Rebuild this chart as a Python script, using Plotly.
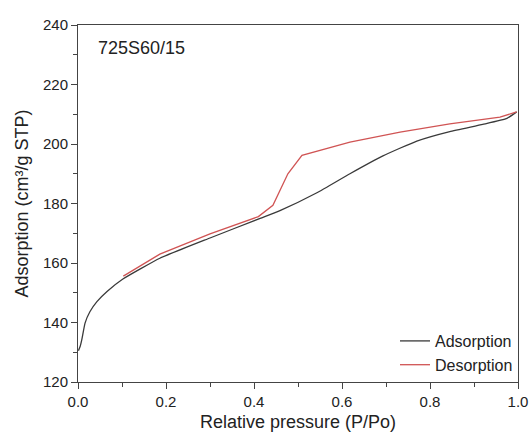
import plotly.graph_objects as go

# Adsorption branch
ads_x = [0.001, 0.005, 0.009, 0.016, 0.027, 0.043, 0.066, 0.102, 0.186, 0.3, 0.414, 0.459, 0.543, 0.618, 0.693, 0.77, 0.845, 0.92, 0.975, 0.997]
ads_y = [130.5, 132.0, 134.5, 139.8, 143.6, 147.0, 150.4, 154.6, 161.6, 168.4, 175.0, 177.6, 183.6, 190.0, 196.0, 201.0, 204.2, 206.6, 208.6, 210.8]

# Desorption branch
des_x = [0.103, 0.186, 0.3, 0.41, 0.443, 0.477, 0.509, 0.618, 0.732, 0.845, 0.959, 0.997]
des_y = [155.6, 163.0, 169.8, 175.6, 179.4, 190.0, 196.2, 200.6, 204.0, 206.8, 209.0, 210.8]

x_tickvals = [0.0, 0.2, 0.4, 0.6, 0.8, 1.0]
x_ticktext = ["0.0", "0.2", "0.4", "0.6", "0.8", "1.0"]
y_tickvals = [120, 140, 160, 180, 200, 220, 240]
y_ticktext = ["120", "140", "160", "180", "200", "220", "240"]

sample_label = "725S60/15"

FONT = "Liberation Sans, Arial, sans-serif"

fig = go.Figure()
fig.add_trace(go.Scatter(x=ads_x, y=ads_y, mode="lines", name="Adsorption",
                         line=dict(color="#3a3a3a", width=1.3, shape="spline", smoothing=0.4)))
fig.add_trace(go.Scatter(x=des_x, y=des_y, mode="lines", name="Desorption",
                         line=dict(color="#d05454", width=1.3)))

axis_common = dict(
    showgrid=False, zeroline=False, showline=True, mirror=True,
    linecolor="#444", linewidth=1, automargin=False,
    ticks="outside", ticklen=6, tickwidth=1, tickcolor="#444",
    tickfont=dict(family=FONT, size=15, color="#222"),
)

fig.update_xaxes(range=[0, 1.0], tickvals=x_tickvals, ticktext=x_ticktext,
                 minor=dict(ticks="outside", ticklen=4, tickcolor="#444", dtick=0.1, tick0=0),
                 title=dict(text="Relative pressure (P/Po)", font=dict(family=FONT, size=18, color="#222"), standoff=6),
                 **axis_common)
fig.update_yaxes(range=[120, 240], tickvals=y_tickvals, ticktext=y_ticktext,
                 minor=dict(ticks="outside", ticklen=4, tickcolor="#444", dtick=10, tick0=120),
                 title=dict(text="Adsorption (cm³/g STP)", font=dict(family=FONT, size=18, color="#222"), standoff=9),
                 **axis_common)

fig.add_annotation(text=sample_label, xref="paper", yref="paper", x=0.041, y=0.935,
                   xanchor="left", yanchor="middle", showarrow=False,
                   font=dict(family=FONT, size=18, color="#222"))

fig.update_layout(
    width=531, height=437,
    margin=dict(l=78, r=13, t=25, b=55),
    plot_bgcolor="white", paper_bgcolor="white",
    legend=dict(x=1.0, y=0.0, xanchor="right", yanchor="bottom",
                bgcolor="rgba(0,0,0,0)", font=dict(family=FONT, size=16, color="#222"),
                itemwidth=30, tracegroupgap=0),
    font=dict(family=FONT),
)

fig.write_html("out.html", config={"displayModeBar": False},
               post_script="document.body.style.margin='0';document.body.style.overflow='hidden';")
